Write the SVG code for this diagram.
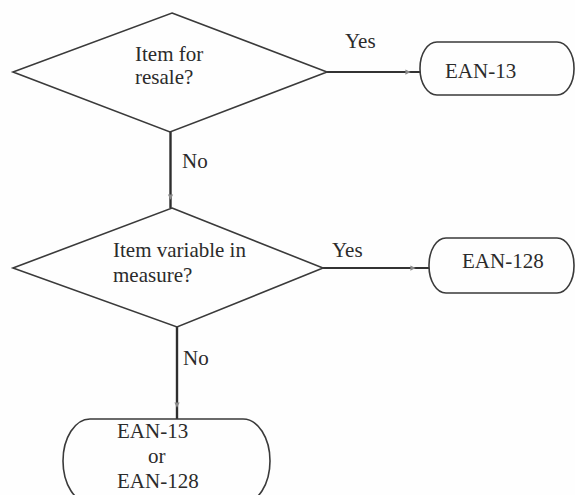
<svg xmlns="http://www.w3.org/2000/svg" width="575" height="495" viewBox="0 0 575 495">
  <style>
    .shape { fill: none; stroke: #3a3a3a; stroke-width: 1.6; stroke-linejoin: miter; }
    .conn { fill: none; stroke: #333; stroke-width: 1.8; }
    .vconn { fill: none; stroke: #2e2e2e; stroke-width: 2.4; }
    .t { font-family: 'Liberation Serif', serif; font-size: 21px; fill: #2b2b2b; }
  </style>
  <defs>
    <marker id="tick" viewBox="0 0 8 8" refX="4" refY="4" markerWidth="7" markerHeight="7" markerUnits="userSpaceOnUse" orient="auto">
      <path d="M1,1 L7,4 L1,7 Z" fill="#8a8a8a"/>
    </marker>
  </defs>
  <rect width="575" height="495" fill="#fefefe"/>

  <!-- connectors -->
  <g id="connectors">
    <path class="conn" d="M327,72 H408 H420" marker-mid="url(#tick)"/>
    <path class="vconn" d="M170.5,132 V197 V208" marker-mid="url(#tick)"/>
    <path class="conn" d="M323,268 H413 H429" marker-mid="url(#tick)"/>
    <path class="vconn" d="M177,327 V405 V419" marker-mid="url(#tick)"/>
  </g>

  <g id="decision-resale">
    <path class="shape" d="M172,13 L327,72 L170,132 L13,72 Z"/>
    <text class="t" x="135" y="61">Item for</text>
    <text class="t" x="135" y="84">resale?</text>
  </g>

  <g id="decision-variable">
    <path class="shape" d="M172,208 L323,268 L177,327 L13,268 Z"/>
    <text class="t" x="113" y="257">Item variable in</text>
    <text class="t" x="113" y="282">measure?</text>
  </g>

  <g id="term-ean13">
    <rect class="shape" x="420" y="42" width="154" height="53" rx="17" ry="26"/>
    <text class="t" x="445" y="78">EAN-13</text>
  </g>

  <g id="term-ean128">
    <rect class="shape" x="429" y="238" width="145" height="55" rx="17" ry="27"/>
    <text class="t" x="462" y="268">EAN-128</text>
  </g>

  <g id="term-either">
    <rect class="shape" x="63" y="419" width="207" height="84" rx="27" ry="42"/>
    <text class="t" x="117" y="438">EAN-13</text>
    <text class="t" x="148" y="463">or</text>
    <text class="t" x="117" y="488">EAN-128</text>
  </g>

  <g id="labels">
    <text class="t" x="345" y="48">Yes</text>
    <text class="t" x="332" y="257">Yes</text>
    <text class="t" x="182" y="168">No</text>
    <text class="t" x="183" y="365">No</text>
  </g>
</svg>
